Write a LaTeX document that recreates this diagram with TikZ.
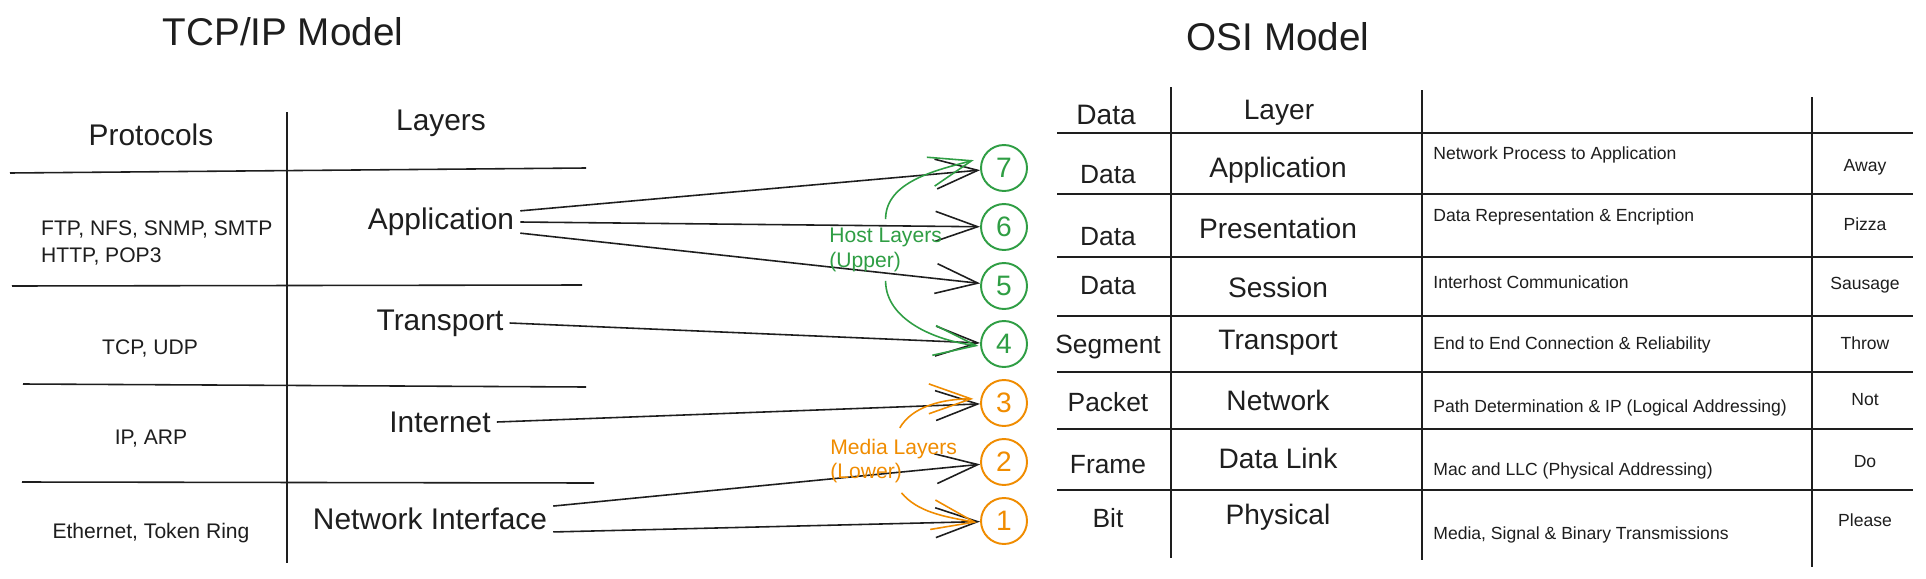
\documentclass[tikz,border=0pt]{standalone}
\usepackage{fontspec}
\setmainfont{Liberation Sans}
\usetikzlibrary{positioning}
\usetikzlibrary{calc,arrows.meta}

\definecolor{inkblack}{HTML}{1E1E1E}
\definecolor{hostgreen}{HTML}{2F9E44}
\definecolor{mediaorange}{HTML}{F08C00}

\begin{document}
\begin{tikzpicture}
	[   x=0.02cm, y=0.02cm,
	    cnode/.style={draw=#1,text=#1,line width=1.1pt,circle,inner sep=0pt,minimum size=0.92cm,font=\fontsize{16}{18}\selectfont},
	    rule/.style={draw=inkblack,line width=0.9pt},
	    title/.style={text=inkblack,font=\fontsize{22}{26}\selectfont},
	    big/.style={text=inkblack,font=\fontsize{17}{20}\selectfont},
	    proto/.style={text=inkblack,align=left,font=\fontsize{12}{15.3}\selectfont},
	    osibig/.style={text=inkblack,font=\fontsize{16}{19}\selectfont},
	    osismall/.style={text=inkblack,font=\fontsize{10}{12}\selectfont},
	    grouplabel/.style={text=#1,align=left,inner sep=0pt,font=\fontsize{12}{14}\selectfont},
	]
	\tikzset{normal arrow/.style={draw=inkblack,line width=0.9pt,-{Straight Barb[length=24pt,width=17pt]}}}
	\tikzset{group arrow/.style={draw=#1,line width=0.9pt,-{Straight Barb[length=24pt,width=17pt]}}}
	\fill[white] (0,0) rectangle (1926,-578);
	\useasboundingbox (0,0) rectangle (1926,-578);
	
	% TCP/IP table
	\node[title] (tcp-title) at (283,-32) {TCP/IP Model};
	\node[big] (tcp-head-1) at (151,-135) {Protocols};
	\node[big] (tcp-head-2) at (441,-123) {Layers};
	\draw[rule] (287,-112) -- (287,-563);
	\draw[rule] (10,-173) -- (586,-168);
	\draw[rule] (12,-286) -- (582,-285);
	\draw[rule] (23,-384) -- (586,-387);
	\draw[rule] (22,-482) -- (594,-483);
	
	\node[proto,anchor=west] (proto-1) at (35,-243) {FTP, NFS, SNMP, SMTP\\HTTP, POP3};
	\node[proto] (proto-2) at (150,-348) {TCP, UDP};
	\node[proto] (proto-3) at (151,-439) {IP, ARP};
	\node[proto] (proto-4) at (151,-533) {Ethernet, Token Ring};
	
	\node[big] (tcp-app) at (441,-222) {Application};
	\node[big] (tcp-tr) at (440,-323) {Transport};
	\node[big] (tcp-int) at (440,-422) {Internet};
	\node[big] (tcp-ni) at (430,-519) {Network Interface};
	
	% layer numbers
	\foreach \n/\y in {7/168,6/227,5/286,4/344,3/403,2/462,1/521}
	{
		\ifnum \n > 3
		\node[cnode=hostgreen] (c-\n) at (1004,-\y) {\n};
		\else
		\node[cnode=mediaorange] (c-\n) at (1004,-\y) {\n};
		\fi
	}
	
	\path[normal arrow] (tcp-app.8) -- (c-7);
	\path[normal arrow] (tcp-app.east) -- (c-6);
	\path[normal arrow] (tcp-app.-8) -- (c-5);
	\path[normal arrow] (tcp-tr.east) -- (c-4);
	\path[normal arrow] (tcp-int.east) -- (c-3);
	\path[normal arrow] (tcp-ni.6) -- (c-2);
	\path[normal arrow] (tcp-ni.-6) -- (c-1);
	
	\node[grouplabel=hostgreen,anchor=west] (host) at (829,-250) {Host Layers\\(Upper)};
	\node[grouplabel=mediaorange,anchor=west] (media) at (830,-461) {Media Layers\\(Lower)};
	\path[group arrow=hostgreen,shorten <=5pt,shorten >=5pt] (host.north) to[out=90,in=195] (c-7.155);
	\path[group arrow=hostgreen,shorten <=5pt,shorten >=1pt] (host.south) to[out=-90,in=173] (c-4.185);
	\path[group arrow=mediaorange,shorten <=7pt,shorten >=4pt] (media.north) to[out=60,in=180] (c-3.170);
	\path[group arrow=mediaorange,shorten <=7pt,shorten >=2pt] (media.south) to[out=-50,in=170] (c-1.185);
	
	% OSI table
	\node[title] (osi-title) at (1278,-37) {OSI Model};
	\draw[rule] (1171,-87) -- (1171,-558);
	\draw[rule] (1422,-90) -- (1422,-560);
	\draw[rule] (1812,-97) -- (1812,-567);
	\foreach \y in {133,194,257,316,372,429,490}
		\draw[rule] (1057,-\y) -- (1913,-\y);
	\node[osibig] (osi-head-1) at (1106,-115) {Data};
	\node[osibig] (osi-head-2) at (1279,-113) {Layer};
	
	\foreach \i/\ya/\yb/\yc/\yd/\unit/\layer/\desc/\word in {
		1/175/170/155/167/Data/Application/Network Process to Application/Away,
		2/237/228/217/224/Data/Presentation/Data Representation \& Encription/Pizza,
		3/286/287/282/285/Data/Session/Interhost Communication/Sausage,
		4/347/343/345/343/Segment/Transport/End to End Connection \& Reliability/Throw,
		5/402/400/408/400/Packet/Network/Path Determination \& IP (Logical Addressing)/Not,
		6/465/458/471/462/Frame/Data Link/Mac and LLC (Physical Addressing)/Do,
		7/518/517/535/520/Bit/Physical/{Media, Signal \& Binary Transmissions}/Please}
	{
		\node[osibig,font=\fontsize{15}{18}\selectfont] (osi-unit-\i) at (1108,-\ya) {\unit};
		\node[osibig] (osi-layer-\i) at (1278,-\yb) {\layer};
		\node[osismall,anchor=west,inner sep=0pt] (osi-desc-\i) at (1433,-\yc) {\desc};
		\node[osismall] (osi-word-\i) at (1865,-\yd) {\word};
	}
\end{tikzpicture}
\end{document}
